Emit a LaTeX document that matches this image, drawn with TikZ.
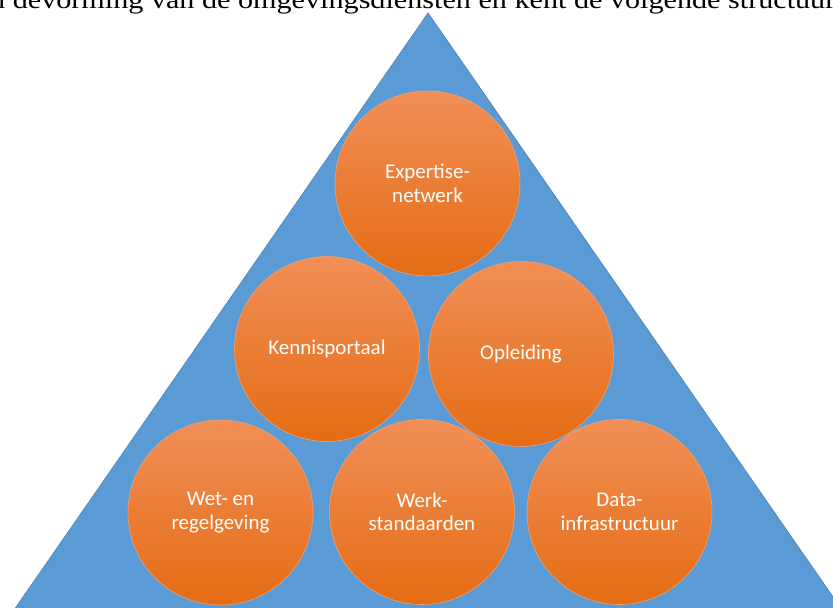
\documentclass[tikz,border=0pt]{standalone}
\usepackage{fontspec}
\setmainfont{Carlito}
\newfontfamily\topfont[FakeStretch=1.16]{Liberation Serif}
\definecolor{triblue}{RGB}{91,155,213}
\definecolor{triedge}{RGB}{75,130,185}
\definecolor{orTop}{RGB}{241,143,87}
\definecolor{orMid}{RGB}{241,124,38}
\definecolor{orBot}{RGB}{228,108,20}
\definecolor{orEdge}{RGB}{244,160,110}
\tikzset{
  ball/.style={circle, minimum size=185pt, inner sep=0pt, align=center,
    top color=orTop, middle color=orMid, bottom color=orBot,
    draw=orEdge, line width=0.6pt, text=white,
    font=\fontsize{21}{23.5}\selectfont},
  headtext/.style={anchor=base west, inner sep=0pt, text=black,
    font=\topfont\fontsize{26}{30}\selectfont}
}
\begin{document}
\begin{tikzpicture}[x=1pt,y=-1pt]
\useasboundingbox (0,0) rectangle (833,608);
\clip (0,0) rectangle (833,608);
\node[headtext] (hdr) at (-10,8) {n devorming van de omgevingsdiensten en kent de volgende structuur:};
\coordinate (apex) at (428,13);
\coordinate (bl) at (7,620);
\coordinate (br) at (849,620);
\fill[black!45, opacity=0.6] ([shift={(1.5,1.5)}]apex) -- ([shift={(1.5,1.5)}]br) -- ([shift={(1.5,1.5)}]bl) -- cycle;
\filldraw[fill=triblue, draw=triedge, line width=0.6pt] (apex) -- (br) -- (bl) -- cycle;
\node[ball] (exp) at (427.5,183.5) {Expertise-\\netwerk};
\node[ball] (ken) at (327,349) {Kennisportaal};
\node[ball] (opl) at (521,354) {Opleiding};
\node[ball] (wet) at (220.5,512.5) {Wet- en\\regelgeving};
\node[ball] (wer) at (422,512) {Werk-\\standaarden};
\node[ball] (dat) at (619.5,512) {Data-\\infrastructuur};
\end{tikzpicture}
\end{document}
